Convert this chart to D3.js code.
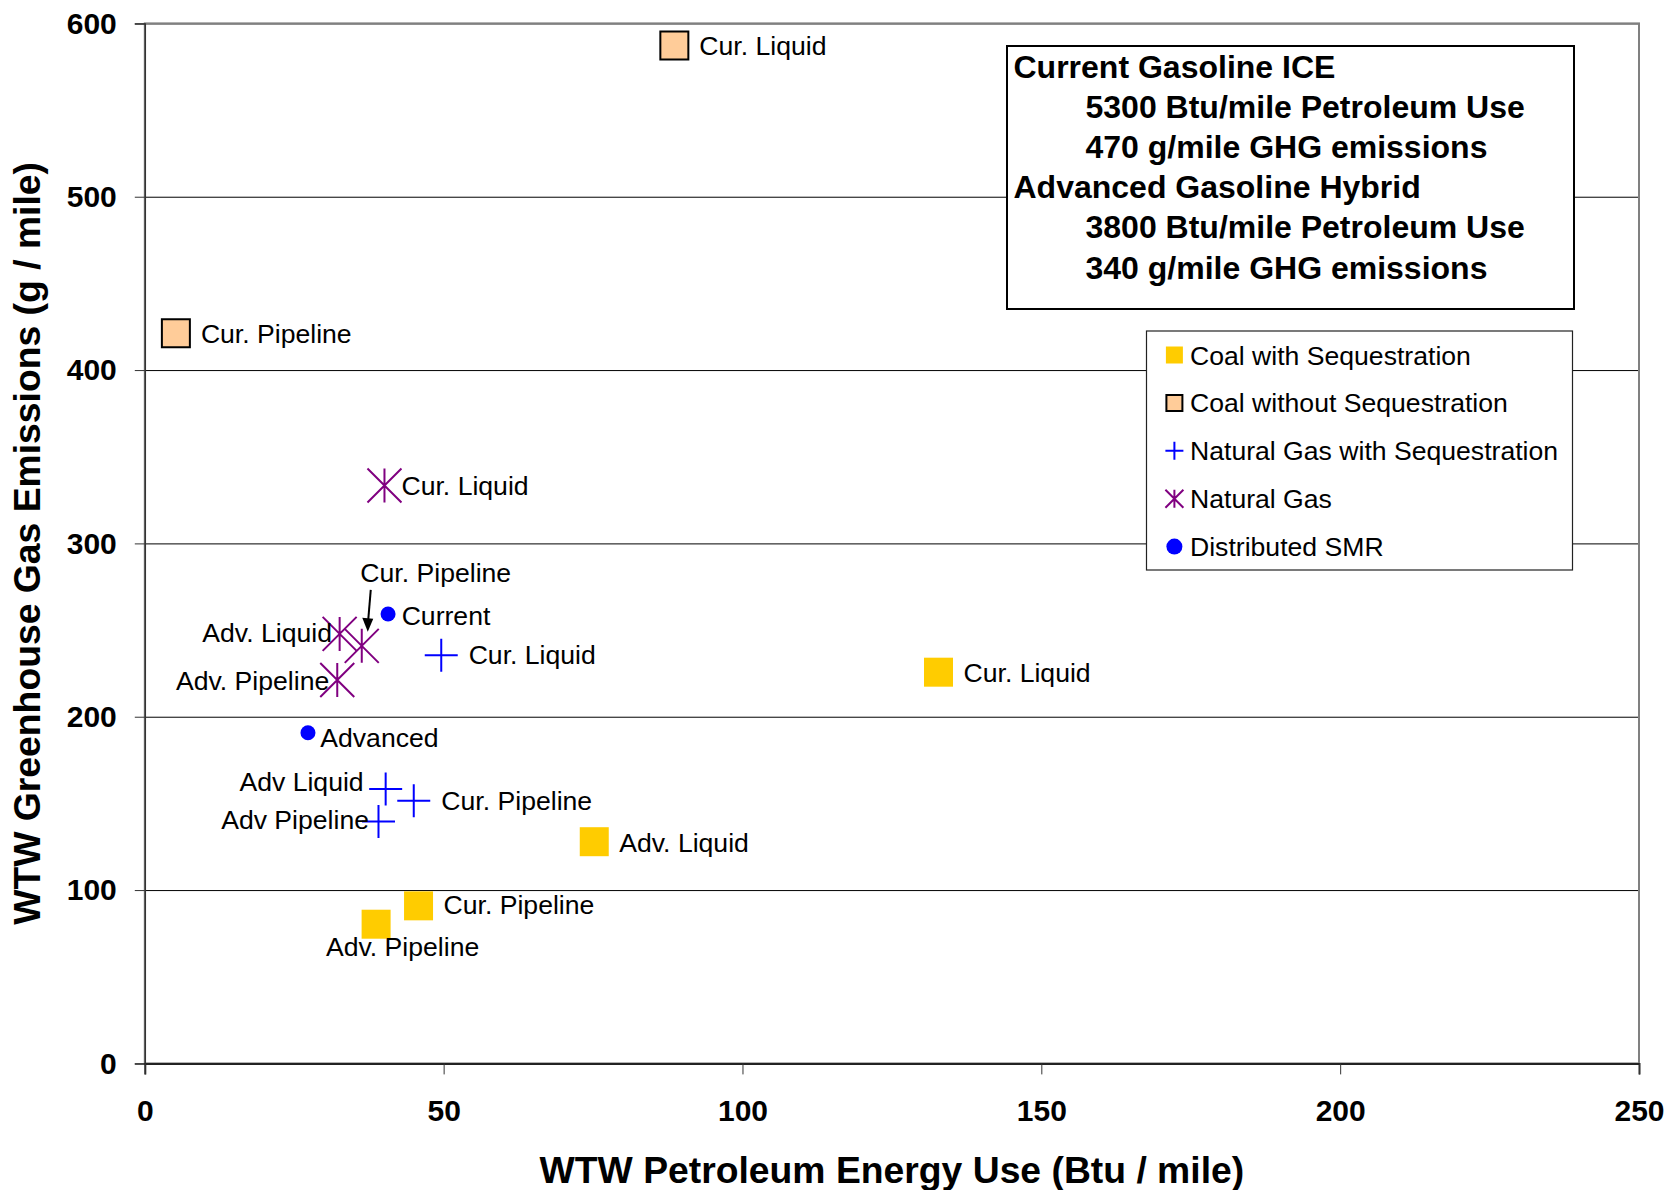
<!DOCTYPE html>
<html>
<head>
<meta charset="utf-8">
<script src="https://cdn.jsdelivr.net/npm/d3@7"></script>
<style>
html,body{margin:0;padding:0;background:#fff;}
svg{display:block;font-family:Arial,"Liberation Sans",sans-serif;}
</style>
</head>
<body>
<svg id="chart" width="1669" height="1190"></svg>
<script>
// ---------------- DATA ----------------
const seriesNames = ["Coal with Sequestration", "Coal without Sequestration",
  "Natural Gas with Sequestration", "Natural Gas", "Distributed SMR"];

const coalSeqLabels = ["Cur. Liquid", "Adv. Liquid", "Cur. Pipeline", "Adv. Pipeline"];
const coalSeqX = [132.8, 75.2, 45.8, 38.7];
const coalSeqY = [225.7, 127.9, 90.9, 80.3];

const coalNoSeqLabels = ["Cur. Liquid", "Cur. Pipeline"];
const coalNoSeqX = [88.6, 5.2];
const coalNoSeqY = [587.2, 421.2];

const ngSeqLabels = ["Cur. Liquid", "Adv Liquid", "Cur. Pipeline", "Adv Pipeline"];
const ngSeqX = [49.6, 40.3, 45.0, 39.1];
const ngSeqY = [235.5, 158.3, 151.6, 139.5];

const ngLabels = ["Cur. Liquid", "Adv. Liquid", "Cur. Pipeline", "Adv. Pipeline"];
const ngX = [40.1, 32.6, 36.3, 32.2];
const ngY = [333.4, 247.8, 240.9, 221.2];

const smrLabels = ["Current", "Advanced"];
const smrX = [40.7, 27.3];
const smrY = [259.3, 190.8];

const xTicks = [0, 50, 100, 150, 200, 250];
const yTicks = [0, 100, 200, 300, 400, 500, 600];
const xTitle = "WTW Petroleum Energy Use (Btu / mile)";
const yTitle = "WTW Greenhouse Gas Emissions (g / mile)";

const noteHeads = ["Current Gasoline ICE", "Advanced Gasoline Hybrid"];
const noteDetails = [
  ["5300 Btu/mile Petroleum Use", "470 g/mile GHG emissions"],
  ["3800 Btu/mile Petroleum Use", "340 g/mile GHG emissions"]
];

// ---------------- LAYOUT / STYLE ----------------
const plot = {left: 144.8, right: 1639, top: 23.4, bottom: 1063.4};
const svg = d3.select("#chart");
svg.append("rect").attr("width", 1669).attr("height", 1190).attr("fill", "#fff");

const x = d3.scaleLinear().domain([0, 250]).range([plot.left, plot.right]);
const y = d3.scaleLinear().domain([0, 600]).range([plot.bottom, plot.top]);

const series = [
  {key: "coalSeq", name: seriesNames[0], labels: coalSeqLabels, xs: coalSeqX, ys: coalSeqY},
  {key: "coalNoSeq", name: seriesNames[1], labels: coalNoSeqLabels, xs: coalNoSeqX, ys: coalNoSeqY},
  {key: "ngSeq", name: seriesNames[2], labels: ngSeqLabels, xs: ngSeqX, ys: ngSeqY},
  {key: "ng", name: seriesNames[3], labels: ngLabels, xs: ngX, ys: ngY},
  {key: "smr", name: seriesNames[4], labels: smrLabels, xs: smrX, ys: smrY}
];

const styles = {
  coalSeq:   {shape: "square", size: 29, legSize: 17, fill: "#FFCC00", stroke: "none", sw: 0},
  coalNoSeq: {shape: "square", size: 28, legSize: 16, fill: "#FFCC99", stroke: "#000", sw: 2},
  ngSeq:     {shape: "cross", size: 33, legSize: 18, fill: "none", stroke: "#0000FF", sw: 2},
  ng:        {shape: "star", size: 34, legSize: 18, fill: "none", stroke: "#800080", sw: 2},
  smr:       {shape: "circle", size: 15, legSize: 16, fill: "#0000FF", stroke: "none", sw: 0}
};

// label offsets in px from marker centre: [dx, dy, anchor]
const labelPlace = {
  coalSeq:   [[25, 0, "start"], [25, 1, "start"], [25, -1, "start"], [26.5, 22, "middle"]],
  coalNoSeq: [[25, 0, "start"], [25, 0, "start"]],
  ngSeq:     [[27.4, -1, "start"], [-22, -7.3, "end"], [27.6, 0, "start"], [-9.5, -1.7, "end"]],
  ng:        [[17, 0, "start"], [-7.7, -1, "end"], [-1.4, -73.7, "start"], [-8, 0, "end"]],
  smr:       [[13.6, 1, "start"], [12.3, 4.6, "start"]]
};

function shapePath(shape, s) {
  const h = s / 2;
  if (shape === "square") return `M${-h},${-h}h${s}v${s}h${-s}Z`;
  if (shape === "cross") return `M${-h},0H${h}M0,${-h}V${h}`;
  if (shape === "star") return `M${-h},${-h}L${h},${h}M${-h},${h}L${h},${-h}M0,${-h}V${h}`;
  return d3.symbol(d3.symbolCircle, Math.PI * h * h)();
}

// ---------------- GRID ----------------
svg.append("g")
  .attr("transform", `translate(${plot.left},0)`)
  .call(d3.axisLeft(y).tickValues(yTicks.filter(v => v > 0)).tickSize(-(plot.right - plot.left)).tickFormat(""))
  .call(g => g.select(".domain").remove())
  .call(g => g.selectAll("line").attr("stroke", "#000").attr("stroke-width", 1));

// frame
svg.append("rect")
  .attr("x", plot.left).attr("y", plot.top)
  .attr("width", plot.right - plot.left).attr("height", plot.bottom - plot.top)
  .attr("fill", "none").attr("stroke", "#808080").attr("stroke-width", 2);

// ---------------- AXES ----------------
const yAxis = svg.append("g")
  .attr("transform", `translate(${plot.left},0)`)
  .call(d3.axisLeft(y).tickValues(yTicks).tickSize(10).tickPadding(18).tickFormat(d3.format("d")));
yAxis.select(".domain").attr("stroke", "#333").attr("stroke-width", 1.5);
yAxis.selectAll("line").attr("stroke", "#333").attr("stroke-width", 1);
yAxis.selectAll("text").attr("font-size", 30).attr("font-weight", "bold")
  .attr("font-family", "Arial, 'Liberation Sans', sans-serif").attr("fill", "#000");

const xAxis = svg.append("g")
  .attr("transform", `translate(0,${plot.bottom})`)
  .call(d3.axisBottom(x).tickValues(xTicks).tickSize(11).tickPadding(25).tickFormat(d3.format("d")));
xAxis.select(".domain").attr("stroke", "#222").attr("stroke-width", 2);
xAxis.selectAll("line").attr("stroke", "#333").attr("stroke-width", 1);
xAxis.selectAll("text").attr("font-size", 30).attr("font-weight", "bold")
  .attr("font-family", "Arial, 'Liberation Sans', sans-serif").attr("fill", "#000");

// titles
svg.append("text").attr("x", (plot.left + plot.right) / 2).attr("y", 1183)
  .attr("text-anchor", "middle").attr("font-size", 37.3).attr("font-weight", "bold").text(xTitle);
svg.append("text").attr("transform", `translate(40,${(plot.top + plot.bottom) / 2}) rotate(-90)`)
  .attr("text-anchor", "middle").attr("font-size", 37.3).attr("font-weight", "bold").text(yTitle);

// ---------------- MARKERS & LABELS ----------------
const markG = svg.append("g");
const labG = svg.append("g");
series.forEach(s => {
  const st = styles[s.key];
  s.xs.forEach((xv, i) => {
    const cx = x(xv), cy = y(s.ys[i]);
    markG.append("path")
      .attr("transform", `translate(${cx},${cy})`)
      .attr("d", shapePath(st.shape, st.size))
      .attr("fill", st.fill).attr("stroke", st.stroke).attr("stroke-width", st.sw);
    const p = labelPlace[s.key][i];
    labG.append("text")
      .attr("x", cx + p[0]).attr("y", cy + p[1]).attr("dy", "0.36em")
      .attr("text-anchor", p[2]).attr("font-size", 26.6).attr("fill", "#000")
      .text(s.labels[i]);
  });
});

// arrow for Natural Gas "Cur. Pipeline"
{
  const ax = x(ngX[2]), ay = y(ngY[2]);
  const tail = [ax + 9, ay - 56], tip = [ax + 6, ay - 14];
  svg.append("line").attr("x1", tail[0]).attr("y1", tail[1]).attr("x2", tip[0] + 0.3).attr("y2", tip[1] - 10)
    .attr("stroke", "#000").attr("stroke-width", 2);
  svg.append("path")
    .attr("d", `M${tip[0]},${tip[1]}L${tip[0] - 5.5},${tip[1] - 14}L${tip[0] + 5.5},${tip[1] - 13}Z`)
    .attr("fill", "#000");
}

// ---------------- NOTE BOX ----------------
const note = svg.append("g");
note.append("rect").attr("x", 1007).attr("y", 46).attr("width", 567).attr("height", 263)
  .attr("fill", "#fff").attr("stroke", "#000").attr("stroke-width", 2);
let line = 0;
noteHeads.forEach((h, k) => {
  note.append("text").attr("x", 1013.5).attr("y", 77.5 + line * 40.2)
    .attr("font-size", 32).attr("font-weight", "bold").text(h);
  line++;
  noteDetails[k].forEach(t => {
    note.append("text").attr("x", 1085.5).attr("y", 77.5 + line * 40.2)
      .attr("font-size", 32).attr("font-weight", "bold").text(t);
    line++;
  });
});

// ---------------- LEGEND ----------------
const leg = svg.append("g");
leg.append("rect").attr("x", 1146.5).attr("y", 331).attr("width", 426).attr("height", 239)
  .attr("fill", "#fff").attr("stroke", "#222").attr("stroke-width", 1.2);
series.forEach((s, i) => {
  const st = styles[s.key];
  const cy = 355 + i * 47.9;
  leg.append("path").attr("transform", `translate(1174.4,${cy})`)
    .attr("d", shapePath(st.shape, st.legSize))
    .attr("fill", st.fill).attr("stroke", st.stroke).attr("stroke-width", st.sw);
  leg.append("text").attr("x", 1190).attr("y", cy).attr("dy", "0.36em")
    .attr("font-size", 26.6).attr("fill", "#000").text(s.name);
});
</script>
</body>
</html>
